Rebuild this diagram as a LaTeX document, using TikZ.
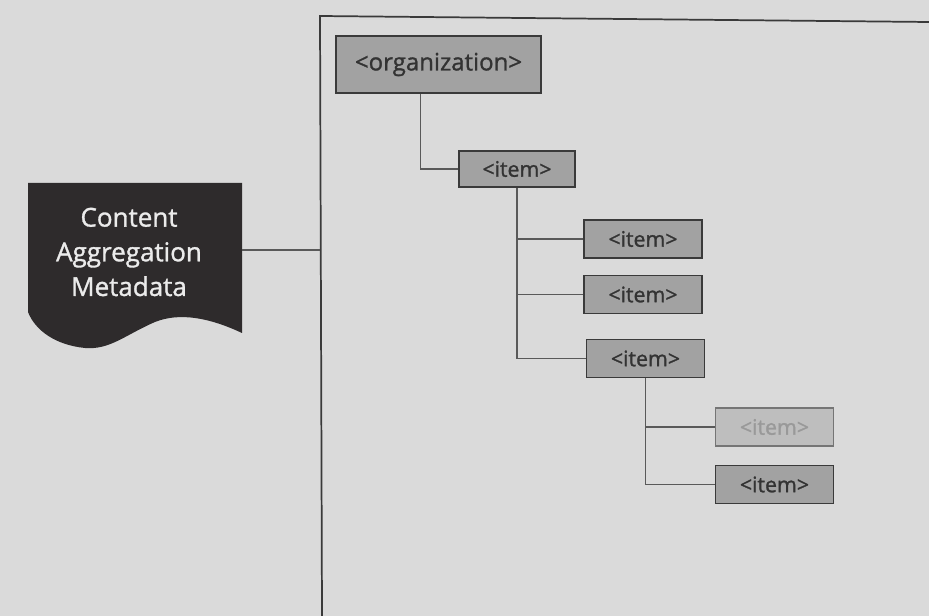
\documentclass[tikz,border=0pt]{standalone}
\usepackage{fontspec}
\setmainfont{Open Sans}
\newfontfamily\semifont{Open Sans}[FakeBold=1.2]
\usepackage{tikz}

\definecolor{paper}{HTML}{DADADA}
\definecolor{boxfill}{HTML}{A2A2A2}
\definecolor{boxline}{HTML}{3A3A3A}
\definecolor{docfill}{HTML}{2E2B2C}

\begin{document}
\begin{tikzpicture}[x=0.75pt,y=-0.75pt,
	elem/.style={draw=boxline,line width=1.2pt,fill=boxfill,minimum width=88.5pt,minimum height=28.5pt,inner sep=0pt,font=\semifont\fontsize{16}{19}\selectfont,text=black!80},
	faded/.style={elem,fill=boxfill!70!white,draw=boxline!70,text=black!40},
	link/.style={draw=black!65,line width=0.8pt}]
	\fill[paper] (0,0) rectangle (929,616);
	\useasboundingbox (0,0) rectangle (929,616);

	% frame round the tree
	\coordinate (ftl) at (320,16);
	\coordinate (ftr) at (929,22);
	\coordinate (fbl) at (322,616);
	\draw[boxline,line width=1.3pt] (ftr) -- (ftl) -- (fbl);

	% content aggregation metadata
	\fill[docfill] (28,183) -- (242,183) -- (242,333) .. controls (210,318) and (180,312) .. (155,322) .. controls (125,335) and (110,350) .. (85,348) .. controls (55,345) and (35,330) .. (28,312) -- cycle;
	\node[text=white!92!black,align=center,font=\semifont\fontsize{19.5}{26}\selectfont] (doc) at (129,252) {Content\\Aggregation\\Metadata};
	\coordinate (docr) at (242,250);

	\node[elem,minimum width=153.75pt,minimum height=42.75pt,font=\semifont\fontsize{18}{21}\selectfont] (org) at (438.5,64.5) {<organization>};
	\node[elem,minimum width=87pt,minimum height=27pt] (i1) at (517,169) {<item>};
	\node[elem] (i2) at (643,239) {<item>};
	\node[elem] (i3) at (643,294.5) {<item>};
	\node[elem] (i4) at (645.5,358.5) {<item>};
	\node[faded] (i5) at (774.5,427) {<item>};
	\node[elem] (i6) at (774.5,484.5) {<item>};

\draw[link,line width=1pt] (docr) -- (docr -| ftl);
\draw[link] (org.south) ++(-18,0) |- (i1.west);
\draw[link] (i1.south) |- (i2.west); \draw[link] (i1.south) |- (i3.west); \draw[link] (i1.south) |- (i4.west);
\draw[link] (i4.south) |- (i5.west); \draw[link] (i4.south) |- (i6.west);

\end{tikzpicture}
\end{document}
